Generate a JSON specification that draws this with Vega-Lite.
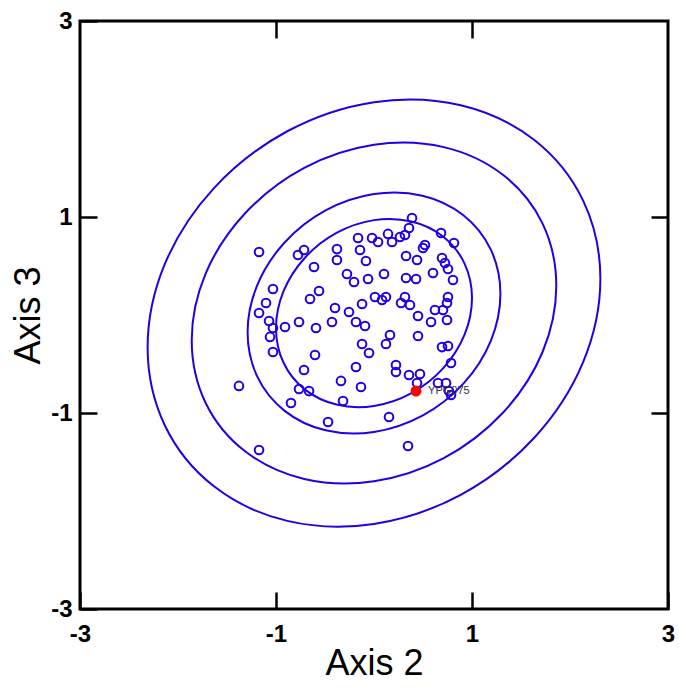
{
  "$schema": "https://vega.github.io/schema/vega-lite/v6.json",
  "width": 588,
  "height": 588,
  "autosize": {"type": "none"},
  "padding": {"left": 80, "top": 21, "right": 11, "bottom": 79},
  "background": "white",
  "config": {
    "view": {"stroke": "black", "strokeWidth": 3},
    "axis": {
      "labelFont": "Liberation Sans", "labelFontSize": 24, "labelFontWeight": "bold", "labelColor": "black",
      "tickColor": "black", "tickWidth": 2.5,
      "titleFont": "Liberation Sans", "titleFontSize": 36, "titleFontWeight": "normal", "titleColor": "black",
      "grid": false, "domain": false, "labelFlush": false, "labelOverlap": false, "labelBound": false
    }
  },
  "datasets": {
    "ellipses": [
      {"ring": 1, "i": 0, "x": 1.000, "y": 0.174}, {"ring": 1, "i": 1, "x": 0.924, "y": 0.525}, {"ring": 1, "i": 2, "x": 0.707, "y": 0.799}, {"ring": 1, "i": 3, "x": 0.383, "y": 0.954},
      {"ring": 1, "i": 4, "x": 0.0, "y": 0.968}, {"ring": 1, "i": 5, "x": -0.383, "y": 0.837}, {"ring": 1, "i": 6, "x": -0.707, "y": 0.582}, {"ring": 1, "i": 7, "x": -0.924, "y": 0.241},
      {"ring": 1, "i": 8, "x": -1.000, "y": -0.134}, {"ring": 1, "i": 9, "x": -0.924, "y": -0.485}, {"ring": 1, "i": 10, "x": -0.707, "y": -0.759}, {"ring": 1, "i": 11, "x": -0.383, "y": -0.914},
      {"ring": 1, "i": 12, "x": 0.0, "y": -0.928}, {"ring": 1, "i": 13, "x": 0.383, "y": -0.797}, {"ring": 1, "i": 14, "x": 0.707, "y": -0.542}, {"ring": 1, "i": 15, "x": 0.924, "y": -0.201},

      {"ring": 2, "i": 0, "x": 1.290, "y": 0.217}, {"ring": 2, "i": 1, "x": 1.192, "y": 0.667}, {"ring": 2, "i": 2, "x": 0.912, "y": 1.018}, {"ring": 2, "i": 3, "x": 0.494, "y": 1.217},
      {"ring": 2, "i": 4, "x": 0.0, "y": 1.234}, {"ring": 2, "i": 5, "x": -0.494, "y": 1.067}, {"ring": 2, "i": 6, "x": -0.912, "y": 0.740}, {"ring": 2, "i": 7, "x": -1.192, "y": 0.303},
      {"ring": 2, "i": 8, "x": -1.290, "y": -0.177}, {"ring": 2, "i": 9, "x": -1.192, "y": -0.627}, {"ring": 2, "i": 10, "x": -0.912, "y": -0.978}, {"ring": 2, "i": 11, "x": -0.494, "y": -1.177},
      {"ring": 2, "i": 12, "x": 0.0, "y": -1.194}, {"ring": 2, "i": 13, "x": 0.494, "y": -1.027}, {"ring": 2, "i": 14, "x": 0.912, "y": -0.700}, {"ring": 2, "i": 15, "x": 1.192, "y": -0.263},

      {"ring": 3, "i": 0, "x": 1.860, "y": 0.298}, {"ring": 3, "i": 1, "x": 1.719, "y": 0.935}, {"ring": 3, "i": 2, "x": 1.315, "y": 1.431}, {"ring": 3, "i": 3, "x": 0.712, "y": 1.713},
      {"ring": 3, "i": 4, "x": 0.0, "y": 1.737}, {"ring": 3, "i": 5, "x": -0.712, "y": 1.501}, {"ring": 3, "i": 6, "x": -1.315, "y": 1.038}, {"ring": 3, "i": 7, "x": -1.719, "y": 0.420},
      {"ring": 3, "i": 8, "x": -1.860, "y": -0.258}, {"ring": 3, "i": 9, "x": -1.719, "y": -0.895}, {"ring": 3, "i": 10, "x": -1.315, "y": -1.391}, {"ring": 3, "i": 11, "x": -0.712, "y": -1.673},
      {"ring": 3, "i": 12, "x": 0.0, "y": -1.697}, {"ring": 3, "i": 13, "x": 0.712, "y": -1.461}, {"ring": 3, "i": 14, "x": 1.315, "y": -0.998}, {"ring": 3, "i": 15, "x": 1.719, "y": -0.380},

      {"ring": 4, "i": 0, "x": 2.310, "y": 0.369}, {"ring": 4, "i": 1, "x": 2.134, "y": 1.167}, {"ring": 4, "i": 2, "x": 1.633, "y": 1.788}, {"ring": 4, "i": 3, "x": 0.885, "y": 2.141},
      {"ring": 4, "i": 4, "x": 0.0, "y": 2.172}, {"ring": 4, "i": 5, "x": -0.885, "y": 1.875}, {"ring": 4, "i": 6, "x": -1.633, "y": 1.295}, {"ring": 4, "i": 7, "x": -2.134, "y": 0.521},
      {"ring": 4, "i": 8, "x": -2.310, "y": -0.329}, {"ring": 4, "i": 9, "x": -2.134, "y": -1.127}, {"ring": 4, "i": 10, "x": -1.633, "y": -1.748}, {"ring": 4, "i": 11, "x": -0.885, "y": -2.101},
      {"ring": 4, "i": 12, "x": 0.0, "y": -2.132}, {"ring": 4, "i": 13, "x": 0.885, "y": -1.835}, {"ring": 4, "i": 14, "x": 1.633, "y": -1.255}, {"ring": 4, "i": 15, "x": 2.134, "y": -0.481}
    ],
    "points": [
      {"x": 0.388, "y": 0.990}, {"x": 0.357, "y": 0.888}, {"x": 0.143, "y": 0.827}, {"x": 0.184, "y": 0.745},
      {"x": 0.265, "y": 0.796}, {"x": 0.316, "y": 0.816}, {"x": -0.163, "y": 0.786}, {"x": -0.143, "y": 0.663},
      {"x": -0.020, "y": 0.786}, {"x": 0.041, "y": 0.745}, {"x": 0.684, "y": 0.837}, {"x": 0.816, "y": 0.735},
      {"x": 0.520, "y": 0.714}, {"x": 0.500, "y": 0.684}, {"x": 0.327, "y": 0.602}, {"x": 0.439, "y": 0.561},
      {"x": 0.694, "y": 0.582}, {"x": 0.724, "y": 0.531}, {"x": 0.755, "y": 0.469}, {"x": 0.806, "y": 0.357},
      {"x": 0.602, "y": 0.429}, {"x": 0.327, "y": 0.378}, {"x": 0.429, "y": 0.367}, {"x": 0.755, "y": 0.184},
      {"x": 0.745, "y": 0.122}, {"x": -0.378, "y": 0.673}, {"x": -0.378, "y": 0.561}, {"x": -0.776, "y": 0.612},
      {"x": -0.714, "y": 0.663}, {"x": -1.173, "y": 0.643}, {"x": -0.612, "y": 0.490}, {"x": -0.276, "y": 0.418},
      {"x": -0.204, "y": 0.337}, {"x": -0.061, "y": 0.367}, {"x": 0.102, "y": 0.418}, {"x": -0.082, "y": 0.551},
      {"x": -1.031, "y": 0.265}, {"x": -0.561, "y": 0.245}, {"x": -0.653, "y": 0.163}, {"x": -1.102, "y": 0.122},
      {"x": -1.173, "y": 0.020}, {"x": -1.071, "y": -0.061}, {"x": -0.398, "y": 0.071}, {"x": -0.255, "y": 0.031},
      {"x": -0.122, "y": 0.112}, {"x": 0.010, "y": 0.184}, {"x": 0.082, "y": 0.153}, {"x": 0.122, "y": 0.184},
      {"x": 0.316, "y": 0.184}, {"x": 0.276, "y": 0.122}, {"x": 0.367, "y": 0.102}, {"x": 0.449, "y": -0.010},
      {"x": 0.622, "y": 0.051}, {"x": 0.704, "y": 0.051}, {"x": 0.745, "y": -0.051}, {"x": 0.582, "y": -0.071},
      {"x": -0.765, "y": -0.071}, {"x": -0.429, "y": -0.071}, {"x": -0.184, "y": -0.071}, {"x": -0.092, "y": -0.112},
      {"x": -0.908, "y": -0.122}, {"x": -0.592, "y": -0.133}, {"x": -1.031, "y": -0.133}, {"x": -1.061, "y": -0.224},
      {"x": -1.031, "y": -0.378}, {"x": -0.602, "y": -0.408}, {"x": -0.714, "y": -0.561}, {"x": -0.122, "y": -0.296},
      {"x": -0.051, "y": -0.388}, {"x": -0.184, "y": -0.531}, {"x": -0.337, "y": -0.673}, {"x": -0.133, "y": -0.735},
      {"x": -1.378, "y": -0.724}, {"x": -0.765, "y": -0.755}, {"x": -0.663, "y": -0.776}, {"x": -0.847, "y": -0.898},
      {"x": -0.316, "y": -0.878}, {"x": -0.469, "y": -1.092}, {"x": -1.173, "y": -1.378}, {"x": 0.163, "y": -0.204},
      {"x": 0.449, "y": -0.214}, {"x": 0.122, "y": -0.296}, {"x": 0.694, "y": -0.327}, {"x": 0.755, "y": -0.316},
      {"x": 0.786, "y": -0.490}, {"x": 0.224, "y": -0.510}, {"x": 0.224, "y": -0.582}, {"x": 0.357, "y": -0.612},
      {"x": 0.469, "y": -0.602}, {"x": 0.439, "y": -0.694}, {"x": 0.653, "y": -0.694}, {"x": 0.735, "y": -0.694},
      {"x": 0.765, "y": -0.776}, {"x": 0.786, "y": -0.816}, {"x": 0.153, "y": -1.041}, {"x": 0.347, "y": -1.337}
    ],
    "selected": [
      {"x": 0.429, "y": -0.776, "label": "YPG075"}
    ]
  },
  "resolve": {"axis": {"x": "independent", "y": "independent"}},
  "layer": [
    {
      "data": {"name": "ellipses"},
      "mark": {"type": "line", "interpolate": "cardinal-closed", "color": "#2000e6", "strokeWidth": 2},
      "encoding": {
        "x": {"field": "x", "type": "quantitative", "scale": {"domain": [-3, 3], "nice": false, "zero": false},
          "axis": {"orient": "bottom", "values": [-3, -1, 1, 3], "offset": -17, "tickSize": 17, "labelPadding": 13,
            "labelExpr": "'' + datum.value", "title": "Axis 2", "titlePadding": 0}},
        "y": {"field": "y", "type": "quantitative", "scale": {"domain": [-3, 3], "nice": false, "zero": false},
          "axis": {"orient": "left", "values": [-3, -1, 1, 3], "offset": -17, "tickSize": 17, "labelPadding": 8,
            "labelExpr": "'' + datum.value", "title": "Axis 3", "titlePadding": 3}},
        "detail": {"field": "ring", "type": "nominal"},
        "order": {"field": "i", "type": "quantitative"}
      }
    },
    {
      "data": {"name": "points"},
      "mark": {"type": "point", "shape": "circle", "filled": false, "color": "#2000e6", "size": 75, "strokeWidth": 2, "opacity": 1},
      "encoding": {
        "x": {"field": "x", "type": "quantitative",
          "axis": {"orient": "top", "values": [-1, 1], "offset": -17, "tickSize": 17, "labels": false, "title": null}},
        "y": {"field": "y", "type": "quantitative",
          "axis": {"orient": "right", "values": [-1, 1], "offset": -17, "tickSize": 17, "labels": false, "title": null}}
      }
    },
    {
      "data": {"name": "selected"},
      "mark": {"type": "point", "shape": "circle", "filled": true, "color": "#ff0000", "size": 120, "opacity": 1},
      "encoding": {
        "x": {"field": "x", "type": "quantitative", "axis": null},
        "y": {"field": "y", "type": "quantitative", "axis": null}
      }
    },
    {
      "data": {"name": "selected"},
      "mark": {"type": "text", "align": "left", "baseline": "middle", "dx": 12, "fontSize": 11, "font": "Liberation Sans", "color": "#333333"},
      "encoding": {
        "x": {"field": "x", "type": "quantitative", "axis": null},
        "y": {"field": "y", "type": "quantitative", "axis": null},
        "text": {"field": "label"}
      }
    }
  ]
}
